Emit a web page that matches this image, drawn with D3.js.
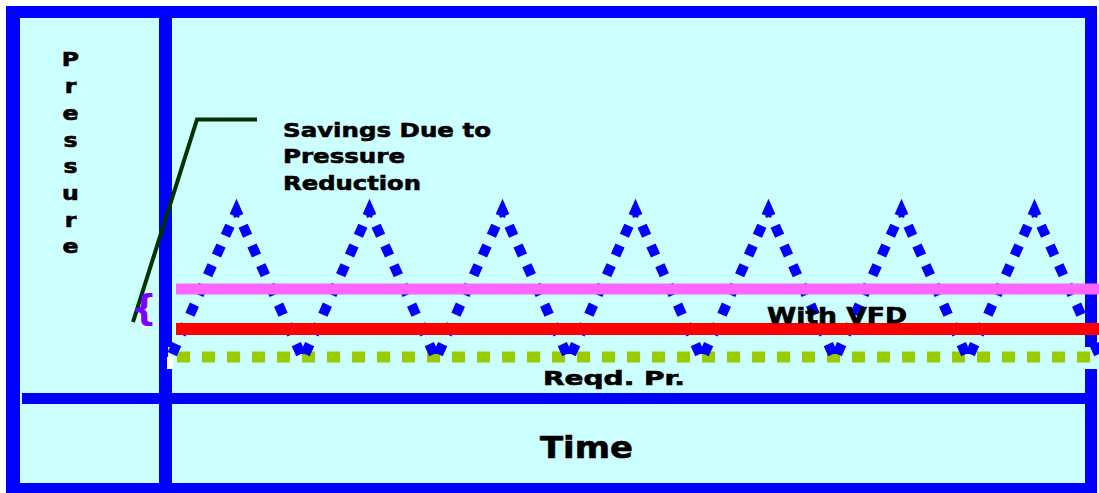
<!DOCTYPE html>
<html>
<head>
<meta charset="utf-8">
<script src="https://cdn.jsdelivr.net/npm/d3@7"></script>
<style>
  html, body { margin: 0; padding: 0; background: #ffffff; }
  svg { display: block; }
  text.lbl { font-family: "DejaVu Sans", Verdana, sans-serif; font-weight: bold; fill: #000; stroke: #000; stroke-width: 0.6px; }
</style>
</head>
<body>
<svg id="chart" width="1099" height="493"></svg>
<script>
// Compressor cycling: pressure swings between load/unload limits over time
const cycleTime     = [0, 1, 2, 3, 4, 5, 6, 7, 8, 9, 10, 11, 12, 13, 14];
const cyclePressure = [17, 91, 17, 91, 17, 91, 17, 91, 17, 91, 17, 91, 17, 91, 17];

// Horizontal pressure levels
const levelNames  = ["Without VFD", "With VFD", "Reqd. Pr."];
const levelValues = [52, 32, 18];

// Axis titles and annotations
const yTitle = "Pressure";
const xTitle = "Time";
const savingsLines = ["Savings Due to", "Pressure", "Reduction"];

const W = 1099, H = 493;
const svg = d3.select("#chart");

// Scales
const x = d3.scaleLinear().domain([0, 14]).range([170, 1101]);
const y = d3.scaleLinear().domain([0, 100]).range([393, 193]);

const BLUE = "#0000ff";
const BG = "#ccffff";

// Stretch bold labels to the wide Verdana-like set width
function fit(sel, width) {
  sel.attr("textLength", width).attr("lengthAdjust", "spacingAndGlyphs");
  return sel;
}

// Panel background
svg.append("rect").attr("x", 20).attr("y", 18).attr("width", 1065).attr("height", 465).attr("fill", BG);

// Frame: outer box, vertical divider, horizontal divider
const frame = [
  [6, 6, 1091, 12],     // top
  [6, 6, 14, 487],      // left
  [1085, 6, 12, 487],   // right
  [6, 483, 1091, 10],   // bottom
  [159, 6, 13, 487],    // y-title divider
  [22, 393, 1063, 11]   // x-title divider
];
svg.append("g").selectAll("rect").data(frame).join("rect")
  .attr("x", d => d[0]).attr("y", d => d[1])
  .attr("width", d => d[2]).attr("height", d => d[3])
  .attr("fill", BLUE);

// Strip behind the lowest level line
svg.append("rect").attr("x", 168).attr("y", 347).attr("width", W - 168).attr("height", 22).attr("fill", BG);
svg.append("rect").attr("x", 167).attr("y", 357).attr("width", 6).attr("height", 12).attr("fill", "#ffffff");

const lineX0 = 176, lineX1 = W;

// Required pressure (dashed green)
svg.append("line")
  .attr("x1", lineX0 + 1).attr("x2", lineX1)
  .attr("y1", y(levelValues[2])).attr("y2", y(levelValues[2]))
  .attr("stroke", "#99cc00").attr("stroke-width", 11)
  .attr("stroke-dasharray", "13 12");

// Cycling pressure (dotted blue)
const path = svg.append("path")
  .datum(cycleTime.map((t, i) => [t, cyclePressure[i]]))
  .attr("d", d3.line().x(d => x(d[0])).y(d => y(d[1])))
  .attr("fill", "none")
  .attr("stroke", BLUE)
  .attr("stroke-width", 10)
  .attr("stroke-linejoin", "miter")
  .attr("stroke-miterlimit", 10);
const cycleLen = path.node().getTotalLength() / 7;
const period = cycleLen / 15;
const dashLen = 11;
path.attr("stroke-dasharray", `${dashLen} ${period - dashLen}`)
    .attr("stroke-dashoffset", period - ((cycleLen / 2 - dashLen / 2) % period));

// Without VFD (pink) and With VFD (red)
svg.append("line")
  .attr("x1", lineX0).attr("x2", lineX1)
  .attr("y1", y(levelValues[0])).attr("y2", y(levelValues[0]))
  .attr("stroke", "#ff66ff").attr("stroke-width", 11);
svg.append("line")
  .attr("x1", lineX0).attr("x2", lineX1)
  .attr("y1", y(levelValues[1])).attr("y2", y(levelValues[1]))
  .attr("stroke", "#ff0000").attr("stroke-width", 12);

// Level labels
fit(svg.append("text").attr("class", "lbl").attr("x", 767).attr("y", 323).attr("font-size", 21).text(levelNames[1]), 140);
fit(svg.append("text").attr("class", "lbl").attr("x", 543).attr("y", 385).attr("font-size", 20).text(levelNames[2]), 142);

// Y title, stacked letters
svg.append("g").selectAll("text").data(yTitle.split("")).join("text")
  .attr("class", "lbl")
  .attr("x", 70.5).attr("y", (d, i) => 66.5 + i * 26.7)
  .attr("text-anchor", "middle").attr("font-size", 20)
  .attr("transform", `translate(70.5,0) scale(1.18,1) translate(-70.5,0)`)
  .text(d => d);

// X title
fit(svg.append("text").attr("class", "lbl").attr("x", 540).attr("y", 458).attr("font-size", 30).text(xTitle), 93);

// Savings annotation with leader line and brace
const savingsWidths = [208, 122, 138];
svg.append("g").selectAll("text").data(savingsLines).join("text")
  .attr("class", "lbl")
  .attr("x", 283).attr("y", (d, i) => 136.7 + i * 26.6)
  .attr("font-size", 20)
  .attr("textLength", (d, i) => savingsWidths[i]).attr("lengthAdjust", "spacingAndGlyphs")
  .text(d => d);
svg.append("polyline")
  .attr("points", "133,322 197,119.5 257,119.5")
  .attr("fill", "none").attr("stroke", "#003300").attr("stroke-width", 4);
svg.append("text").attr("x", 144).attr("y", 320).attr("text-anchor", "middle")
  .attr("font-family", "DejaVu Sans").attr("font-weight", "bold").attr("font-size", 36)
  .style("fill", "#7f00ff").text("{");
</script>
</body>
</html>
